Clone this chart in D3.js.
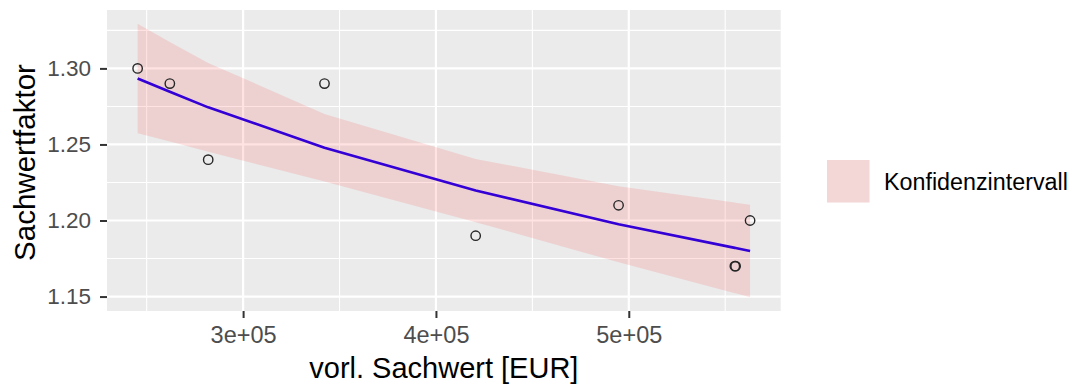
<!DOCTYPE html>
<html>
<head>
<meta charset="utf-8">
<script src="https://cdn.jsdelivr.net/npm/d3@7"></script>
<style>
  html, body { margin: 0; padding: 0; background: #ffffff; }
  svg { display: block; }
  text { font-family: "Liberation Sans", Arial, sans-serif; }
</style>
</head>
<body>
<svg id="chart" width="1075" height="387"></svg>
<script>
// Observed objects: preliminary asset value (EUR) vs. market adjustment factor
const sachwert = [245300, 262000, 281900, 342200, 420600, 494700, 555000, 555400, 562900];
const faktor   = [1.30, 1.29, 1.24, 1.29, 1.19, 1.21, 1.17, 1.17, 1.20];

// Fitted curve and confidence band, evaluated at each observed value
const fit   = [1.2934, 1.2846, 1.2744, 1.2479, 1.2197, 1.1975, 1.1820, 1.1819, 1.1799];
const upper = [1.3294, 1.3173, 1.3036, 1.2701, 1.2405, 1.2225, 1.2118, 1.2117, 1.2103];
const lower = [1.2574, 1.2519, 1.2452, 1.2257, 1.1989, 1.1725, 1.1522, 1.1521, 1.1495];

// Axis ticks
const xTicks = [300000, 400000, 500000];
const xTickLabels = ["3e+05", "4e+05", "5e+05"];
const xMinor = [250000, 350000, 450000, 550000];
const yTicks = [1.15, 1.20, 1.25, 1.30];
const yTickLabels = ["1.15", "1.20", "1.25", "1.30"];
const yMinor = [1.175, 1.225, 1.275, 1.325];

const legendLabel = "Konfidenzintervall";
const xTitle = "vorl. Sachwert [EUR]";
const yTitle = "Sachwertfaktor";

// Layout
const panel = { left: 107, top: 10, right: 780.7, bottom: 311 };
const W = panel.right - panel.left, H = panel.bottom - panel.top;

const svg = d3.select("#chart");

// 5% expansion on both axes, as in ggplot's continuous scales
function expanded(lo, hi) {
  const pad = (hi - lo) * 0.05;
  return [lo - pad, hi + pad];
}
const x = d3.scaleLinear()
  .domain(expanded(d3.min(sachwert), d3.max(sachwert)))
  .range([panel.left, panel.right]);
const y = d3.scaleLinear()
  .domain(expanded(Math.min(d3.min(faktor), d3.min(lower)), Math.max(d3.max(faktor), d3.max(upper))))
  .range([panel.bottom, panel.top]);

// Panel background
svg.append("rect")
  .attr("x", panel.left).attr("y", panel.top)
  .attr("width", W).attr("height", H)
  .attr("fill", "#EBEBEB");

const grid = svg.append("g");
// Minor grid
grid.selectAll(".xminor").data(xMinor).join("line")
  .attr("x1", d => x(d)).attr("x2", d => x(d))
  .attr("y1", panel.top).attr("y2", panel.bottom)
  .attr("stroke", "#ffffff").attr("stroke-width", 1.1);
grid.selectAll(".yminor").data(yMinor).join("line")
  .attr("y1", d => y(d)).attr("y2", d => y(d))
  .attr("x1", panel.left).attr("x2", panel.right)
  .attr("stroke", "#ffffff").attr("stroke-width", 1.1);
// Major grid
grid.selectAll(".xmajor").data(xTicks).join("line")
  .attr("x1", d => x(d)).attr("x2", d => x(d))
  .attr("y1", panel.top).attr("y2", panel.bottom)
  .attr("stroke", "#ffffff").attr("stroke-width", 2.2);
grid.selectAll(".ymajor").data(yTicks).join("line")
  .attr("y1", d => y(d)).attr("y2", d => y(d))
  .attr("x1", panel.left).attr("x2", panel.right)
  .attr("stroke", "#ffffff").attr("stroke-width", 2.2);

const rows = sachwert.map((v, i) => ({ x: v, y: faktor[i], fit: fit[i], lo: lower[i], hi: upper[i] }))
  .sort((a, b) => a.x - b.x);

// Fitted curve
svg.append("path")
  .datum(rows)
  .attr("d", d3.line().x(d => x(d.x)).y(d => y(d.fit)))
  .attr("fill", "none")
  .attr("stroke", "#1A00F0")
  .attr("stroke-width", 2.6)
  .attr("stroke-linejoin", "round");

// Confidence band
const bandFill = "rgba(255,0,0,0.11)";
svg.append("path")
  .datum(rows)
  .attr("d", d3.area().x(d => x(d.x)).y0(d => y(d.lo)).y1(d => y(d.hi)))
  .attr("fill", bandFill);

// Observations (hollow circles)
svg.append("g").selectAll("circle").data(rows).join("circle")
  .attr("cx", d => x(d.x)).attr("cy", d => y(d.y))
  .attr("r", 4.7)
  .attr("fill", "none")
  .attr("stroke", "#262626")
  .attr("stroke-width", 1.4);

// Axes
const xAxis = d3.axisBottom(x)
  .tickValues(xTicks)
  .tickFormat((d, i) => xTickLabels[i])
  .tickSize(7).tickPadding(8.5);
const gx = svg.append("g")
  .attr("transform", `translate(0,${panel.bottom})`)
  .call(xAxis);
gx.select(".domain").remove();
gx.selectAll(".tick line").attr("stroke", "#333333").attr("stroke-width", 2);
gx.selectAll(".tick text")
  .attr("fill", "#4D4D4D")
  .attr("font-size", 23.5)
  .attr("font-family", "Liberation Sans, Arial, sans-serif");

const yAxis = d3.axisLeft(y)
  .tickValues(yTicks)
  .tickFormat((d, i) => yTickLabels[i])
  .tickSize(7).tickPadding(9);
const gy = svg.append("g")
  .attr("transform", `translate(${panel.left},0)`)
  .call(yAxis);
gy.select(".domain").remove();
gy.selectAll(".tick line").attr("stroke", "#333333").attr("stroke-width", 2);
gy.selectAll(".tick text")
  .attr("fill", "#4D4D4D")
  .attr("font-size", 22.5)
  .attr("font-family", "Liberation Sans, Arial, sans-serif");

// Axis titles
svg.append("text")
  .attr("x", (panel.left + panel.right) / 2)
  .attr("y", 378)
  .attr("text-anchor", "middle")
  .attr("font-size", 29)
  .attr("fill", "#000000")
  .text(xTitle);

svg.append("text")
  .attr("transform", `translate(35,${(panel.top + panel.bottom) / 2 + 2}) rotate(-90)`)
  .attr("text-anchor", "middle")
  .attr("font-size", 29.5)
  .attr("fill", "#000000")
  .text(yTitle);

// Legend
const lg = svg.append("g").attr("transform", "translate(827,160)");
lg.append("rect")
  .attr("width", 42.5).attr("height", 42.5)
  .attr("fill", "#F2F2F2");
lg.append("rect")
  .attr("width", 42.5).attr("height", 42.5)
  .attr("fill", bandFill);
lg.append("text")
  .attr("x", 57).attr("y", 21.5)
  .attr("dy", "0.36em")
  .attr("font-size", 23.3)
  .attr("fill", "#000000")
  .text(legendLabel);
</script>
</body>
</html>
